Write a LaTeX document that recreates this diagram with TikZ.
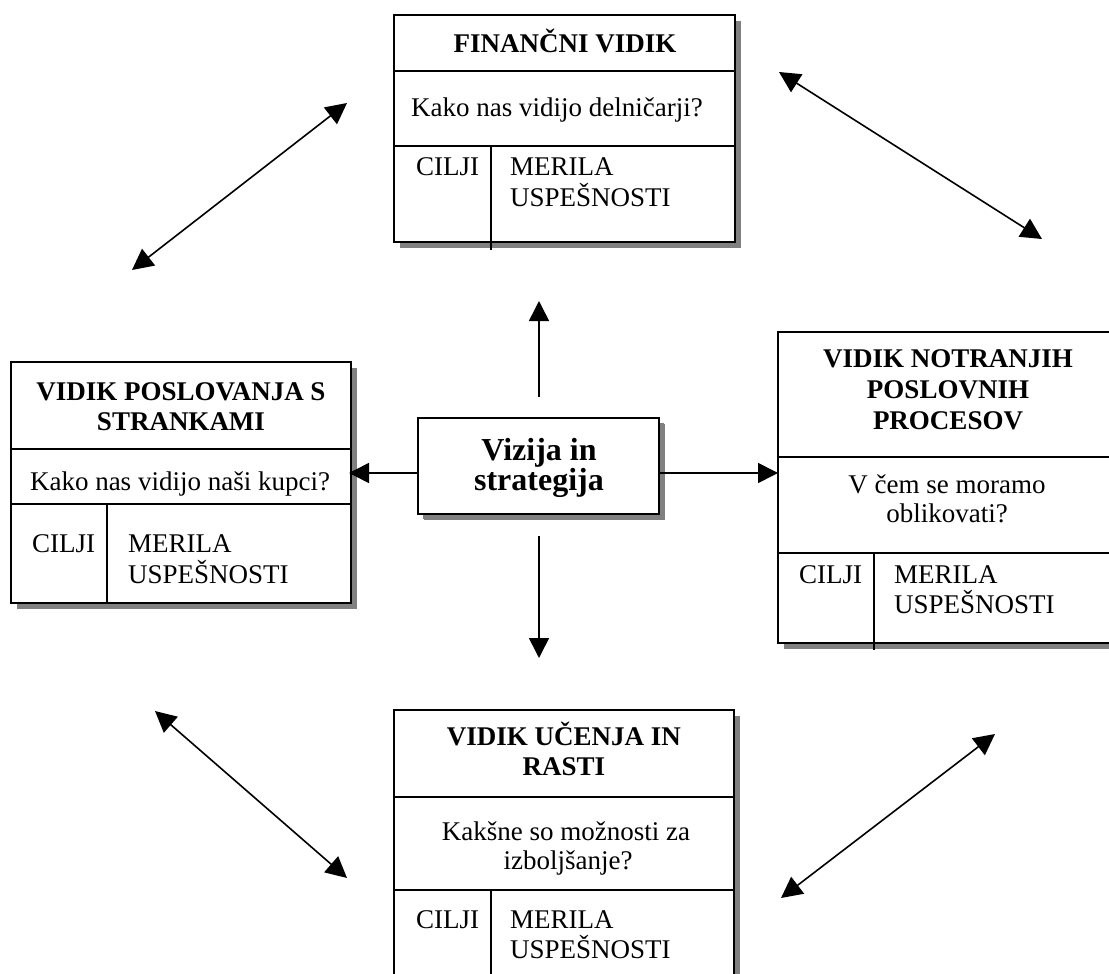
\documentclass[tikz,border=0pt]{standalone}
\usepackage{fontspec}
\setmainfont{Liberation Serif}
\usetikzlibrary{arrows.meta,shadows}
\definecolor{shadowgray}{HTML}{808080}
\begin{document}
\begin{tikzpicture}[x=1pt,y=-1pt,
  frame/.style={draw=black, line width=2pt, fill=white, inner sep=0pt, outer sep=0pt, anchor=north west,
    drop shadow={shadow xshift=6pt, shadow yshift=-6pt, fill=shadowgray, opacity=1}},
  rule/.style={line width=1.6pt},
  hdr/.style={font=\fontsize{27}{31}\selectfont\bfseries, anchor=base, inner sep=0pt},
  txt/.style={font=\fontsize{27}{31}\selectfont, anchor=base, inner sep=0pt},
  cell/.style={font=\fontsize{27}{31}\selectfont, anchor=base west, inner sep=0pt},
  big/.style={font=\fontsize{32}{32}\selectfont\bfseries, anchor=base, inner sep=0pt},
  conn/.style={line width=1.6pt, -{Triangle[length=20pt,width=20pt]}},
  dconn/.style={line width=1.6pt, {Triangle[length=21pt,width=21pt]}-{Triangle[length=21pt,width=21pt]}}
]
\useasboundingbox (0,0) rectangle (1109,974);
\clip (0,0) rectangle (1109,974);

% ---- top box: financial
\node[frame, minimum width=341pt, minimum height=227pt] (F) at (394,15) {};
\draw[rule] (394,71) -- (735,71);
\draw[rule] (394,146) -- (735,146);
\draw[rule] (491,146) -- (491,250);
\node[hdr] (Fh) at (565,53) {FINANČNI VIDIK};
\node[txt] (Fq) at (557,117) {Kako nas vidijo delničarji?};
\node[cell] (Fc) at (416,175) {CILJI};
\node[cell] (Fm1) at (510,175) {MERILA};
\node[cell] (Fm2) at (510,206) {USPEŠNOSTI};

% ---- left box: customers
\node[frame, minimum width=340pt, minimum height=241pt] (C) at (11,362) {};
\draw[rule] (11,449) -- (351,449);
\draw[rule] (11,504) -- (351,504);
\draw[rule] (107,504) -- (107,603);
\node[hdr] (Ch1) at (181,400) {VIDIK POSLOVANJA S};
\node[hdr] (Ch2) at (181,430) {STRANKAMI};
\node[txt] (Cq) at (180,490) {Kako nas vidijo naši kupci?};
\node[cell] (Cc) at (32,552) {CILJI};
\node[cell] (Cm1) at (128,552) {MERILA};
\node[cell] (Cm2) at (128,583) {USPEŠNOSTI};

% ---- right box: internal processes
\node[frame, minimum width=340pt, minimum height=311pt] (P) at (778,332) {};
\draw[rule] (778,457) -- (1118,457);
\draw[rule] (778,553) -- (1118,553);
\draw[rule] (874,553) -- (874,650);
\node[hdr] (Ph1) at (948,367) {VIDIK NOTRANJIH};
\node[hdr] (Ph2) at (948,398) {POSLOVNIH};
\node[hdr] (Ph3) at (948,429) {PROCESOV};
\node[txt] (Pq1) at (947,493) {V čem se moramo};
\node[txt] (Pq2) at (947,522) {oblikovati?};
\node[cell] (Pc) at (799,583) {CILJI};
\node[cell] (Pm1) at (894,583) {MERILA};
\node[cell] (Pm2) at (894,613) {USPEŠNOSTI};

% ---- bottom box: learning and growth
\node[frame, minimum width=340pt, minimum height=300pt] (L) at (394,710) {};
\draw[rule] (394,797) -- (734,797);
\draw[rule] (394,890) -- (734,890);
\draw[rule] (491,890) -- (491,1010);
\node[hdr] (Lh1) at (564,745) {VIDIK UČENJA IN};
\node[hdr] (Lh2) at (564,775) {RASTI};
\node[txt] (Lq1) at (566,840) {Kakšne so možnosti za};
\node[txt] (Lq2) at (568,869) {izboljšanje?};
\node[cell] (Lc) at (416,928) {CILJI};
\node[cell] (Lm1) at (510,928) {MERILA};
\node[cell] (Lm2) at (510,958) {USPEŠNOSTI};

% ---- center box
\node[frame, drop shadow={shadow xshift=5pt, shadow yshift=-5pt, fill=shadowgray, opacity=1},
      minimum width=241pt, minimum height=96pt] (V) at (418,418) {};
\node[big] (V1) at (539,460) {Vizija in};
\node[big] (V2) at (539,490) {strategija};

% ---- connector end points
\coordinate (upS) at (539,397);
\coordinate (upE) at (539,301);
\coordinate (dnS) at (539,536);
\coordinate (dnE) at (539,658);
\coordinate (lfS) at (418,473);
\coordinate (lfE) at (349,473);
\coordinate (rtS) at (659,473);
\coordinate (rtE) at (778,473);
\coordinate (tlA) at (132,270);
\coordinate (tlB) at (347,103);
\coordinate (trA) at (779,72);
\coordinate (trB) at (1042,239);
\coordinate (blA) at (155,711);
\coordinate (blB) at (347,878);
\coordinate (brA) at (995,734);
\coordinate (brB) at (781,898);

\draw[conn] (upS) -- (upE);
\draw[conn] (dnS) -- (dnE);
\draw[conn] (lfS) -- (lfE);
\draw[conn] (rtS) -- (rtE);
\draw[dconn] (tlA) -- (tlB);
\draw[dconn] (trA) -- (trB);
\draw[dconn] (blA) -- (blB);
\draw[dconn] (brA) -- (brB);
\end{tikzpicture}
\end{document}
